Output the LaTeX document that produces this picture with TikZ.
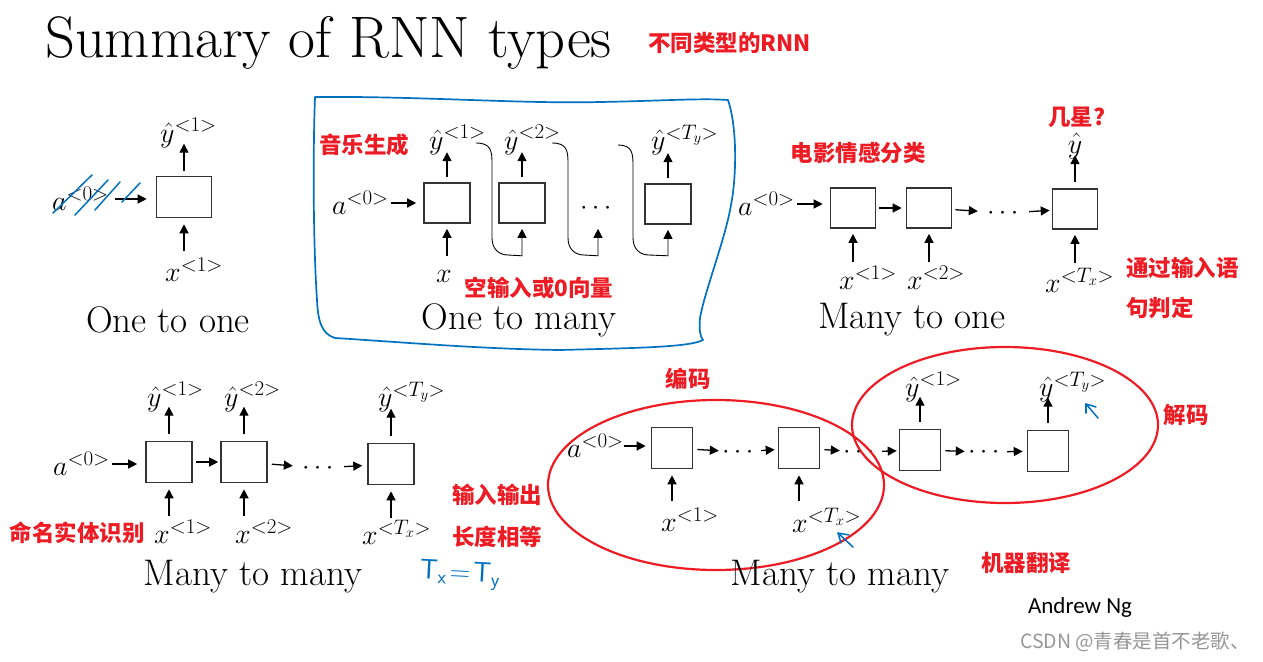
\RequirePackage{fix-cm}
\documentclass[tikz,border=0pt]{standalone}
\usepackage{fontspec}
\usepackage{amsmath}
\usetikzlibrary{arrows.meta}
\usetikzlibrary{calc}
\usetikzlibrary{positioning}
\newfontfamily\cjk{Noto Sans CJK SC}
\newfontfamily\calib{Carlito}
\newcommand{\tagsup}[1]{^{\text{\fontsize{21}{23}\selectfont$\mathord{<}#1\mathord{>}$}}}
\definecolor{notered}{RGB}{237,28,36}
\definecolor{penblue}{RGB}{0,112,192}
\definecolor{markgray}{RGB}{150,150,150}
\tikzset{cell/.style = {draw=black!80, line width=1.6pt, minimum width=45pt, minimum height=40pt, inner sep=0}}
\tikzset{arr/.style = {-{Triangle[length=9pt, width=9pt]}, line width=1.3pt}}
\tikzset{lbl/.style = {font=\fontsize{28}{31}\selectfont, inner sep=1pt}}
\tikzset{dots/.style = {font=\fontsize{27}{30}\selectfont, inner sep=1pt}}
\tikzset{kindname/.style = {font=\fontsize{37}{42}\selectfont, inner sep=0}}
\tikzset{note/.style = {font=\cjk\bfseries\fontsize{22.5}{26}\selectfont, text=notered, inner sep=0}}
\tikzset{pen/.style = {draw=penblue, line width=1.5pt, line cap=round, line join=round}}
\tikzset{ring/.style = {draw=notered, line width=2.2pt}}

\begin{document}
\begin{tikzpicture}[x=1pt, y=-1pt]
    \useasboundingbox (0,0) rectangle (1263,661);

    \node [anchor=base west, inner sep=0, font=\fontsize{58.5}{64}\selectfont] (title) at (45,58) {Summary of RNN types};
    \node [note, anchor=west] (kinds) at (648,43) {不同类型的RNN};

    % one to one
    \node [cell, minimum width=55pt, minimum height=41pt] (b11) at (184,197) {};
    \node [lbl, anchor=west] (y11) at (159,133) {$\hat{y}\tagsup{1}$};
    \node [lbl, anchor=west] (x11) at (164,270) {$x\tagsup{1}$};
    \node [lbl, anchor=west] (a01) at (51,199) {$a\tagsup{0}$};
    \draw [arr] ([yshift=5pt]b11.north) -- ([yshift=32pt]b11.north);
    \draw [arr] ([yshift=-33pt]b11.south) -- ([yshift=-6pt]b11.south);
    \draw [arr, shorten <=5pt, shorten >=9pt] (a01.east) -- (a01.east -| b11.west);
    \draw [pen] (53,213) -- (92,175);
    \draw [pen] (75,215) -- (108,180);
    \draw [pen] (95,210) -- (120,182);
    \draw [pen] (122,202) -- (140,183);
    \node [kindname] (c11) at (168,320) {One to one};

    % one to many
    \draw [pen, line width=1.7pt] (315,97) .. controls (420,96) and (520,104) .. (600,102)
        .. controls (660,101) and (700,98) .. (728,100)
        .. controls (738,130) and (736,180) .. (731,205)
        .. controls (725,240) and (705,290) .. (700,318)
        .. controls (699,330) and (700,336) .. (703,340)
        .. controls (690,347) and (640,348) .. (560,350)
        .. controls (480,349) and (400,342) .. (335,338)
        .. controls (322,334) and (318,322) .. (317,300)
        .. controls (313,240) and (313,150) .. (315,97) -- cycle;
    \node [cell, minimum width=46pt] (b21) at (447,203) {};
    \node [cell, minimum width=46pt] (b22) at (522,203) {};
    \node [cell, minimum width=46pt] (b23) at (668,204) {};
    \node [dots] (d21) at (598,208) {$\cdots$};
    \node [lbl, anchor=west] (y21) at (428,140) {$\hat{y}\tagsup{1}$};
    \node [lbl, anchor=west] (y22) at (503,140) {$\hat{y}\tagsup{2}$};
    \node [lbl, anchor=west] (y2T) at (650,140) {$\hat{y}\tagsup{T_y}$};
    \node [lbl, anchor=west] (a02) at (331,203) {$a\tagsup{0}$};
    \node [lbl] (x21) at (444,276) {$x$};
    \foreach \b in {b21,b22,b23}
        \draw [arr] ([yshift=5pt]\b.north) -- ([yshift=30pt]\b.north);
    \draw [arr] ([yshift=-32pt]b21.south) -- ([yshift=-5pt]b21.south);
    \draw [arr, shorten <=1pt, shorten >=7pt] (a02.east) -- (a02.east -| b21.west);
    \coordinate (f1) at (476,143);
    \coordinate (f2) at (552,143);
    \coordinate (f3) at (618,145);
    \draw [arr, line width=0.9pt] (f1) .. controls +(15,0) and +(0,-12) .. ++(16,20) -- ++(0,75)
        .. controls +(0,12) and +(-8,0) .. ++(16,17) -- ($(b22.south)+(0,32)$) -- ($(b22.south)+(0,5)$);
    \draw [arr, line width=0.9pt] (f2) .. controls +(15,0) and +(0,-12) .. ++(16,20) -- ++(0,75)
        .. controls +(0,12) and +(-8,0) .. ++(16,17) -- ($(d21 |- b22.south)+(0,32)$) -- ($(d21 |- b22.south)+(0,5)$);
    \draw [arr, line width=0.9pt] (f3) .. controls +(14,0) and +(0,-12) .. ++(15,20) -- ++(0,73)
        .. controls +(0,12) and +(-8,0) .. ++(16,17) -- ($(b23.south)+(0,31)$) -- ($(b23.south)+(0,5)$);
    \node [note] (n21) at (364,145) {音乐生成};
    \node [note] (n22) at (539,288) {空输入或0向量};
    \node [kindname] (c21) at (519,320) {One to many};

    % many to one
    \node [cell] (b31) at (853,208) {};
    \node [cell] (b32) at (929,208) {};
    \node [cell] (b33) at (1075,209) {};
    \node [dots] (d31) at (1005,213) {$\cdots$};
    \node [lbl, anchor=west] (a03) at (737,204) {$a\tagsup{0}$};
    \node [lbl] (y3) at (1075,146) {$\hat{y}$};
    \node [lbl, anchor=west] (x31) at (838,278) {$x\tagsup{1}$};
    \node [lbl, anchor=west] (x32) at (906,278) {$x\tagsup{2}$};
    \node [lbl, anchor=west] (x3T) at (1044,280) {$x\tagsup{T_x}$};
    \draw [arr, shorten <=1pt, shorten >=7pt] (a03.east) -- (a03.east -| b31.west);
    \draw [arr, shorten <=3pt, shorten >=4pt] (b31) -- (b32);
    \draw [arr, shorten <=3pt, shorten >=8pt] (b32) -- (d31);
    \draw [arr, shorten <=5pt, shorten >=2pt] (d31) -- (b33);
    \draw [arr] ([yshift=6pt]b33.north) -- ([yshift=33pt]b33.north);
    \foreach \b in {b31,b32,b33}
        \draw [arr] ([yshift=-33pt]\b.south) -- ([yshift=-5pt]\b.south);
    \node [note] (n31) at (1077,117) {几星?};
    \node [note] (n32) at (858,153) {电影情感分类};
    \node [note, anchor=west] (n33) at (1126,268) {通过输入语};
    \node [note, anchor=west] (n34) at (1126,308) {句判定};
    \node [kindname] (c31) at (912,320) {Many to one};

    % many to many, same length
    \node [cell, minimum width=46pt, minimum height=41pt] (b41) at (169,462) {};
    \node [cell, minimum width=46pt, minimum height=41pt] (b42) at (244,462) {};
    \node [cell, minimum width=46pt, minimum height=41pt] (b43) at (391,464) {};
    \node [dots] (d41) at (320,468) {$\cdots$};
    \node [lbl, anchor=west] (a04) at (52,464) {$a\tagsup{0}$};
    \node [lbl, anchor=west] (y41) at (146,397) {$\hat{y}\tagsup{1}$};
    \node [lbl, anchor=west] (y42) at (223,397) {$\hat{y}\tagsup{2}$};
    \node [lbl, anchor=west] (y4T) at (377,397) {$\hat{y}\tagsup{T_y}$};
    \node [lbl, anchor=west] (x41) at (153,532) {$x\tagsup{1}$};
    \node [lbl, anchor=west] (x42) at (234,532) {$x\tagsup{2}$};
    \node [lbl, anchor=west] (x4T) at (361,532) {$x\tagsup{T_x}$};
    \draw [arr, shorten <=1pt, shorten >=8pt] (a04.east) -- (a04.east -| b41.west);
    \draw [arr, shorten <=3pt, shorten >=2pt] (b41) -- (b42);
    \draw [arr, shorten <=4pt, shorten >=8pt] (b42) -- (d41);
    \draw [arr, shorten <=5pt, shorten >=5pt] (d41) -- (b43);
    \foreach \b in {b41,b42,b43} {
        \draw [arr] ([yshift=7pt]\b.north) -- ([yshift=34pt]\b.north);
        \draw [arr] ([yshift=-33pt]\b.south) -- ([yshift=-6pt]\b.south);
    }
    \node [note] (n41) at (77,533) {命名实体识别};
    \node [note] (n42) at (497,495) {输入输出};
    \node [note] (n43) at (497,537) {长度相等};
    \node [kindname] (c41) at (253,577) {Many to many};
    \node [text=penblue, font=\sffamily\fontsize{28}{32}\selectfont, rotate=-3] (tt) at (460,575) {$\mathsf{T_x\!=\!T_y}$};

    % many to many, encoder and decoder
    \node [cell, minimum width=41pt, minimum height=41pt] (b51) at (672,448) {};
    \node [cell, minimum width=41pt, minimum height=41pt] (b52) at (799,448) {};
    \node [cell, minimum width=41pt, minimum height=41pt] (b53) at (920,450) {};
    \node [cell, minimum width=41pt, minimum height=41pt] (b54) at (1048,451) {};
    \node [dots] (d51) at (740,452) {$\cdots$};
    \node [dots] (d52) at (861,452) {$\cdots$};
    \node [dots] (d53) at (986,452) {$\cdots$};
    \node [lbl, anchor=west] (a05) at (566,446) {$a\tagsup{0}$};
    \node [lbl, anchor=west] (y51) at (904,387) {$\hat{y}\tagsup{1}$};
    \node [lbl, anchor=west] (y5T) at (1038,387) {$\hat{y}\tagsup{T_y}$};
    \node [lbl, anchor=west] (x51) at (660,520) {$x\tagsup{1}$};
    \node [lbl, anchor=west] (x5T) at (791,520) {$x\tagsup{T_x}$};
    \draw [arr, shorten <=-1pt, shorten >=5pt] (a05.east) -- (a05.east -| b51.west);
    \draw [arr, shorten <=4pt, shorten >=2pt] (b51) -- (d51);
    \draw [arr, shorten <=2pt, shorten >=3pt] (d51) -- (b52);
    \draw [arr, shorten <=4pt, shorten >=2pt] (b52) -- (d52);
    \draw [arr, shorten <=2pt, shorten >=2pt] (d52) -- (b53);
    \draw [arr, shorten <=4pt, shorten >=2pt] (b53) -- (d53);
    \draw [arr, shorten <=2pt, shorten >=4pt] (d53) -- (b54);
    \foreach \b in {b53,b54}
        \draw [arr] ([yshift=7pt]\b.north) -- ([yshift=32pt]\b.north);
    \foreach \b in {b51,b52}
        \draw [arr] ([yshift=-32pt]\b.south) -- ([yshift=-6pt]\b.south);
    \draw [ring] (716,485) ellipse [x radius=168pt, y radius=85pt];
    \draw [ring] (1005,425) ellipse [x radius=153pt, y radius=78pt];
    \draw [pen] (1098,418) -- (1086,404) -- (1096,407);
    \draw [pen] (1086,404) -- (1086,413);
    \draw [pen] (853,547) -- (838,533) -- (849,535);
    \draw [pen] (838,533) -- (841,543);
    \node [note] (n51) at (688,379) {编码};
    \node [note] (n52) at (1186,415) {解码};
    \node [note] (n53) at (1026,563) {机器翻译};
    \node [kindname] (c51) at (840,577) {Many to many};

    \node [font=\calib\fontsize{23}{27}\selectfont] (author) at (1080,607) {Andrew Ng};
    \node [font=\cjk\fontsize{19.5}{22}\selectfont, text=markgray] (mark) at (1135,642) {CSDN @青春是首不老歌、};
\end{tikzpicture}
\end{document}
